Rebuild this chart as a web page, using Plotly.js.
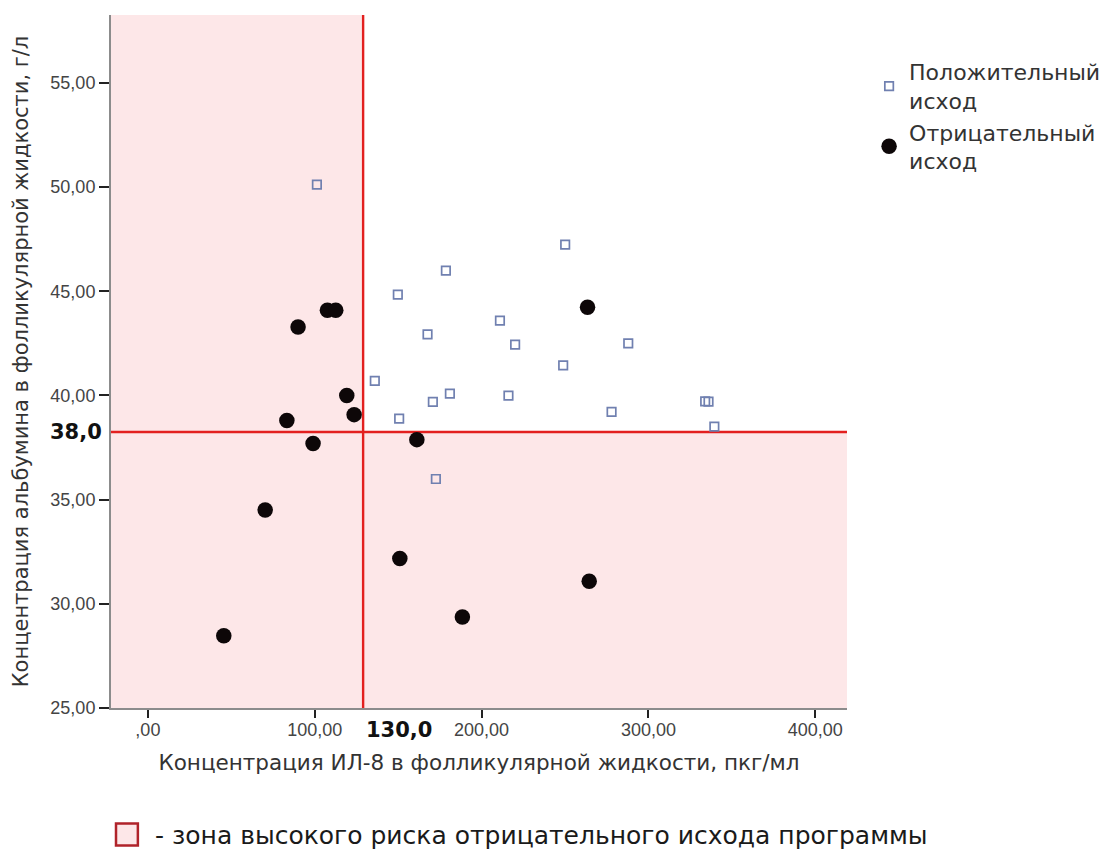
<!DOCTYPE html>
<html>
<head>
<meta charset="utf-8">
<script src="https://cdn.plot.ly/plotly-3.0.1.min.js"></script>
<style>
html,body{margin:0;padding:0;background:#fff;}
#chart{width:1110px;height:849px;}
</style>
</head>
<body>
<div id="chart"></div>
<script>
// ---- data ----
const posName = "Положительный<br>исход";
const negName = "Отрицательный<br>исход";

const posX = [101.3, 149.8, 178.6, 250.1, 167.6, 211.0, 220.1, 287.9, 136.0, 170.8, 181.0, 216.1, 248.9, 277.9, 334.0, 336.0, 339.5, 150.6, 172.6];
const posY = [50.12, 44.84, 45.99, 47.24, 42.93, 43.59, 42.44, 42.50, 40.70, 39.69, 40.09, 39.99, 41.44, 39.21, 39.72, 39.70, 38.50, 38.89, 35.99];

const negX = [45.5, 70.3, 83.3, 90.0, 99.0, 107.6, 112.6, 119.2, 123.6, 161.2, 151.0, 188.5, 263.5, 264.5];
const negY = [28.47, 34.50, 38.80, 43.29, 37.69, 44.09, 44.09, 40.00, 39.08, 37.88, 32.18, 29.37, 44.23, 31.08];

const xTickVals = [0, 100, 200, 300, 400];
const xTickText = [",00", "100,00", "200,00", "300,00", "400,00"];
const yTickVals = [25, 30, 35, 40, 45, 50, 55];
const yTickText = ["25,00", "30,00", "35,00", "40,00", "45,00", "50,00", "55,00"];

const xThreshold = 129;   // drawn cut-off line (label 130,0)
const yThreshold = 38.25; // drawn cut-off line (label 38,0)
const xThresholdLabel = "130,0";
const yThresholdLabel = "38,0";

const xTitle = "Концентрация ИЛ-8 в фолликулярной жидкости, пкг/мл";
const yTitle = "Концентрация альбумина в фолликулярной жидкости, г/л";
const zoneNote = "- зона высокого риска отрицательного исхода программы";

const xRange = [-22.1, 419];
const yRange = [25, 58.26];

// ---- chart ----
const pink = "#fde7e8";
const red = "#e3201f";
const wide = "DejaVu Sans, Verdana, sans-serif";
const arial = "Liberation Sans, Arial, sans-serif";

const traces = [
  {
    type: "scatter", mode: "markers", name: posName,
    x: posX, y: posY,
    marker: {symbol: "square-open", size: 8.5, color: "#7080b0", line: {width: 1.7, color: "#7080b0"}}
  },
  {
    type: "scatter", mode: "markers", name: negName,
    x: negX, y: negY,
    marker: {symbol: "circle", size: 15.5, color: "#0d0708"}
  }
];

const layout = {
  width: 1110, height: 849,
  margin: {l: 111, r: 263, t: 15, b: 141, autoexpand: false},
  paper_bgcolor: "#ffffff",
  plot_bgcolor: "#ffffff",
  font: {family: wide, color: "#333"},
  showlegend: true,
  legend: {
    x: 1.030, y: 0.948, xanchor: "left", yanchor: "top",
    font: {size: 22, color: "#333", family: wide},
    bgcolor: "rgba(0,0,0,0)", itemsizing: "trace"
  },
  xaxis: {
    range: xRange, tickmode: "array", tickvals: xTickVals, ticktext: xTickText,
    showgrid: false, zeroline: false, showline: true, linecolor: "#8c8c8c", linewidth: 2,
    ticks: "outside", ticklen: 8, tickwidth: 2, tickcolor: "#222",
    ticklabelstandoff: -4,
    tickfont: {size: 18, color: "#444", family: arial},
    title: {text: xTitle, font: {size: 21.5, color: "#333", family: wide}, standoff: 16}
  },
  yaxis: {
    range: yRange, tickmode: "array", tickvals: yTickVals, ticktext: yTickText,
    showgrid: false, zeroline: false, showline: true, linecolor: "#8c8c8c", linewidth: 2,
    ticks: "outside", ticklen: 10, tickwidth: 2, tickcolor: "#222",
    tickfont: {size: 18, color: "#444", family: arial},
    title: {text: yTitle, font: {size: 21, color: "#333", family: wide}, standoff: 16}
  },
  shapes: [
    {type: "rect", layer: "below", xref: "x", yref: "y", x0: xRange[0], x1: xThreshold, y0: yRange[0], y1: yRange[1], fillcolor: pink, line: {width: 0}},
    {type: "rect", layer: "below", xref: "x", yref: "y", x0: xThreshold, x1: xRange[1], y0: yRange[0], y1: yThreshold, fillcolor: pink, line: {width: 0}},
    {type: "line", layer: "below", xref: "x", yref: "y", x0: xThreshold, x1: xThreshold, y0: yRange[0], y1: yRange[1], line: {color: red, width: 2.4}},
    {type: "line", layer: "below", xref: "x", yref: "y", x0: xRange[0], x1: xRange[1], y0: yThreshold, y1: yThreshold, line: {color: red, width: 2.4}},
    {type: "rect", xref: "paper", yref: "paper", x0: 0.0068, x1: 0.0365, y0: -0.1985, y1: -0.1665, fillcolor: pink, line: {color: "#b0232a", width: 2.5}}
  ],
  annotations: [
    {xref: "paper", yref: "y", x: -0.0095, y: yThreshold, xanchor: "right", yanchor: "middle", text: "<b>" + yThresholdLabel + "</b>", showarrow: false, font: {size: 21, color: "#111", family: wide}},
    {xref: "x", yref: "paper", x: xThreshold, y: -0.0317, xanchor: "left", yanchor: "middle", xshift: 1, text: "<b>" + xThresholdLabel + "</b>", showarrow: false, font: {size: 21, color: "#111", family: wide}},
    {xref: "paper", yref: "paper", x: 0.0577, y: -0.1845, xanchor: "left", yanchor: "middle", text: zoneNote, showarrow: false, font: {size: 25, color: "#1a1a1a", family: wide}}
  ]
};

Plotly.newPlot("chart", traces, layout, {displayModeBar: false, staticPlot: true});
</script>
</body>
</html>
